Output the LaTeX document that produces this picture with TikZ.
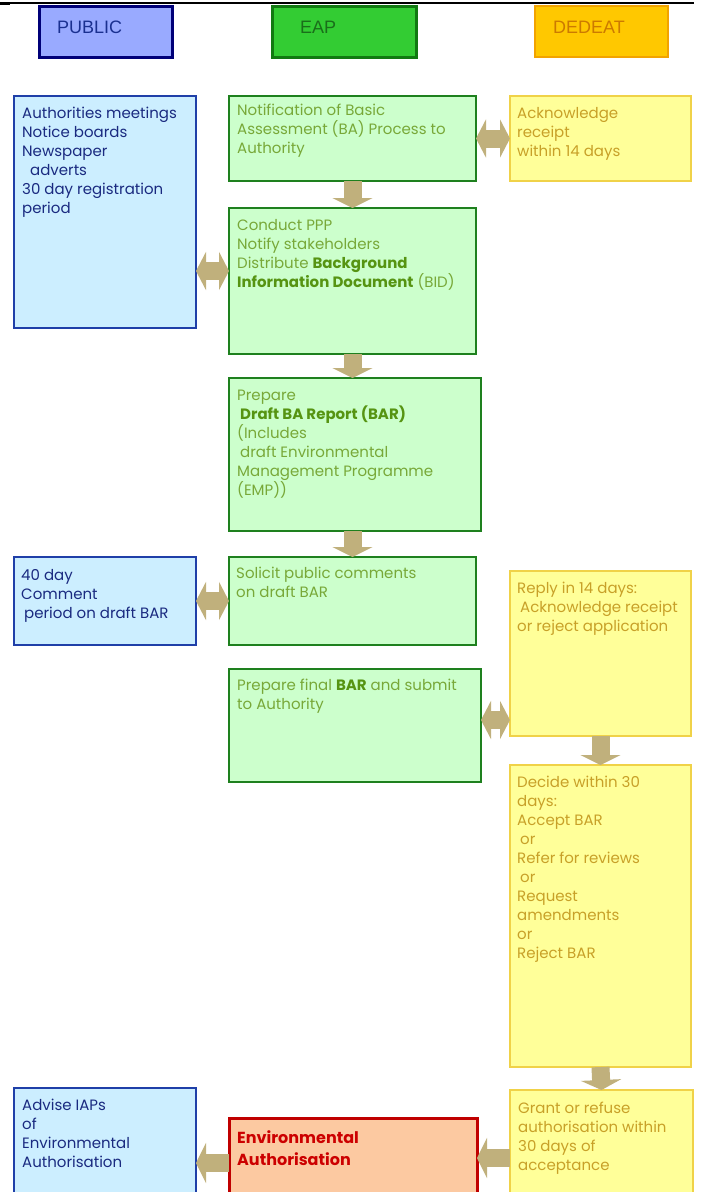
\documentclass[tikz,border=0pt]{standalone}
\usepackage{fontspec}
\setmainfont{Poppins}
\newfontfamily\hdrfont{Liberation Sans}
\usetikzlibrary{arrows.meta}
\definecolor{hpfill}{HTML}{99AAFF}
\definecolor{hpdraw}{HTML}{000078}
\definecolor{hptext}{HTML}{1A3090}
\definecolor{hefill}{HTML}{33CC33}
\definecolor{hedraw}{HTML}{117A11}
\definecolor{hetext}{HTML}{1A6E1A}
\definecolor{hdfill}{HTML}{FFC800}
\definecolor{hddraw}{HTML}{F2A300}
\definecolor{hdtext}{HTML}{CC7A00}
\definecolor{pubfill}{HTML}{CCEEFF}
\definecolor{pubdraw}{HTML}{1F3FA8}
\definecolor{pubtext}{HTML}{1A2A80}
\definecolor{eapfill}{HTML}{CCFFCC}
\definecolor{eapdraw}{HTML}{1E801E}
\definecolor{eaptext}{HTML}{78A838}
\definecolor{eapbold}{HTML}{569412}
\definecolor{dedfill}{HTML}{FFFF99}
\definecolor{deddraw}{HTML}{F0D248}
\definecolor{dedtext}{HTML}{C8A028}
\definecolor{eafill}{HTML}{FCC9A1}
\definecolor{eadraw}{HTML}{C00000}
\definecolor{eatext}{HTML}{CC0000}
\definecolor{arrcol}{HTML}{C0B07C}
\tikzset{
  boxbase/.style={rectangle, anchor=north west, inner sep=0pt, outer sep=0pt},
  hdrbox/.style={boxbase, line width=3pt},
  pubbox/.style={boxbase, draw=pubdraw, fill=pubfill, line width=2pt},
  eapbox/.style={boxbase, draw=eapdraw, fill=eapfill, line width=2pt},
  dedbox/.style={boxbase, draw=deddraw, fill=dedfill, line width=2pt},
  eabox/.style={boxbase, draw=eadraw, fill=eafill, line width=3pt},
  txt/.style={anchor=north west, inner sep=0pt, align=left, font=\fontsize{15}{19}\selectfont},
  hdrtxt/.style={anchor=west, inner sep=0pt, font=\hdrfont\fontsize{18}{20}\selectfont},
  fatarrow/.style={draw=arrcol, line width=18pt, -{Triangle[length=10pt,width=40pt]}},
  fatdouble/.style={draw=arrcol, line width=18pt, {Triangle[length=10pt,width=38pt]}-{Triangle[length=10pt,width=38pt]}},
}
\newcommand{\bx}[6]{\node[#2, minimum width=#5pt, minimum height=#6pt] (#1) at (#3,#4) {};}
\begin{document}
\begin{tikzpicture}[x=1pt,y=-1pt]
\useasboundingbox (0,0) rectangle (704,1192);
\clip (0,0) rectangle (704,1192);
\fill[white] (0,0) rectangle (704,1192);
% top rule
\draw[line width=1.2pt] (0,3) -- (694,3);
\draw[line width=3pt] (0,3) -- (10,3);
% headers
\bx{hp}{hdrbox, draw=hpdraw, fill=hpfill}{39}{6}{133}{51}
\bx{he}{hdrbox, draw=hedraw, fill=hefill}{272}{6}{144}{51}
\bx{hd}{hdrbox, draw=hddraw, fill=hdfill, line width=2.5pt}{535}{6}{133}{51}
\node[hdrtxt, text=hptext] (hpt) at (57,27) {PUBLIC};
\node[hdrtxt, text=hetext] (het) at (300,27) {EAP};
\node[hdrtxt, text=hdtext] (hdt) at (553,27) {DEDEAT};
% boxes
\bx{pub1}{pubbox}{14}{96}{182}{232}
\bx{eap1}{eapbox}{229}{96}{247}{85}
\bx{ded1}{dedbox}{510}{96}{181}{85}
\bx{eap2}{eapbox}{229}{208}{247}{146}
\bx{eap3}{eapbox}{229}{378}{252}{153}
\bx{pub2}{pubbox}{14}{557}{182}{88}
\bx{eap4}{eapbox}{229}{557}{247}{88}
\bx{ded2}{dedbox}{510}{571}{181}{165}
\bx{eap5}{eapbox}{229}{669}{252}{113}
\bx{ded3}{dedbox}{510}{765}{181}{302}
\bx{ded4}{dedbox}{510}{1090}{183}{130}
\bx{ea}{eabox}{229}{1118}{248}{100}
\bx{pub3}{pubbox}{14}{1088}{182}{130}
% texts
\node[txt, text=pubtext] (pub1t) at ([shift={(8,11)}]pub1.north west) {Authorities meetings\\Notice boards\\Newspaper\\\hspace*{8pt}adverts\\30 day registration\\period};
\node[txt, text=eaptext] (eap1t) at ([shift={(8,8)}]eap1.north west) {Notification of Basic\\Assessment (BA) Process to\\Authority};
\node[txt, text=dedtext] (ded1t) at ([shift={(7,11)}]ded1.north west) {Acknowledge\\receipt\\within 14 days};
\node[txt, text=eaptext] (eap2t) at ([shift={(8,11)}]eap2.north west) {Conduct PPP\\Notify stakeholders\\Distribute \textcolor{eapbold}{\textbf{Background}}\\\textcolor{eapbold}{\textbf{Information Document}} (BID)};
\node[txt, text=eaptext] (eap3t) at ([shift={(8,12)}]eap3.north west) {Prepare\\\hspace*{3pt}\textcolor{eapbold}{\textbf{Draft BA Report (BAR)}}\\(Includes\\\hspace*{3pt}draft Environmental\\Management Programme\\(EMP))};
\node[txt, text=pubtext] (pub2t) at ([shift={(7,12)}]pub2.north west) {40 day\\Comment\\\hspace*{3pt}period on draft BAR};
\node[txt, text=eaptext] (eap4t) at ([shift={(7,10)}]eap4.north west) {Solicit public comments\\on draft BAR};
\node[txt, text=dedtext] (ded2t) at ([shift={(7,11)}]ded2.north west) {Reply in 14 days:\\\hspace*{3pt}Acknowledge receipt\\or reject application};
\node[txt, text=eaptext] (eap5t) at ([shift={(8,10)}]eap5.north west) {Prepare final \textcolor{eapbold}{\textbf{BAR}} and submit\\to Authority};
\node[txt, text=dedtext] (ded3t) at ([shift={(7,11)}]ded3.north west) {Decide within 30\\days:\\Accept BAR\\\hspace*{3pt}or\\Refer for reviews\\\hspace*{3pt}or\\Request\\amendments\\or\\Reject BAR};
\node[txt, text=dedtext] (ded4t) at ([shift={(8,12)}]ded4.north west) {Grant or refuse\\authorisation within\\30 days of\\acceptance};
\node[txt, text=eatext, font=\bfseries\fontsize{16}{22}\selectfont] (eat) at ([shift={(8,12)}]ea.north west) {Environmental\\Authorisation};
\node[txt, text=pubtext] (pub3t) at ([shift={(8,11)}]pub3.north west) {Advise IAPs\\of\\Environmental\\Authorisation};
% arrows
\draw[fatarrow] (eap1.south) -- (eap2.north);
\draw[fatarrow] (eap2.south) -- (eap2.south |- eap3.north);
\draw[fatarrow] (eap2.south |- eap3.south) -- (eap2.south |- eap4.north);
\draw[fatarrow] (ded2.south) -- (ded3.north);
\draw[fatarrow] (ded3.south) -- (ded4.north);
\draw[fatdouble] (eap1.east) -- (ded1.west);
\draw[fatdouble] (pub1.east |- 0,271) -- (eap2.west |- 0,271);
\draw[fatdouble] (pub2.east) -- (eap4.west);
\draw[fatdouble] (eap5.east |- 0,720) -- (ded2.west |- 0,720);
\draw[fatarrow] (ded4.west |- 0,1158) -- (ea.east |- 0,1158);
\draw[fatarrow] (ea.west |- 0,1163) -- (pub3.east |- 0,1163);
\end{tikzpicture}
\end{document}
